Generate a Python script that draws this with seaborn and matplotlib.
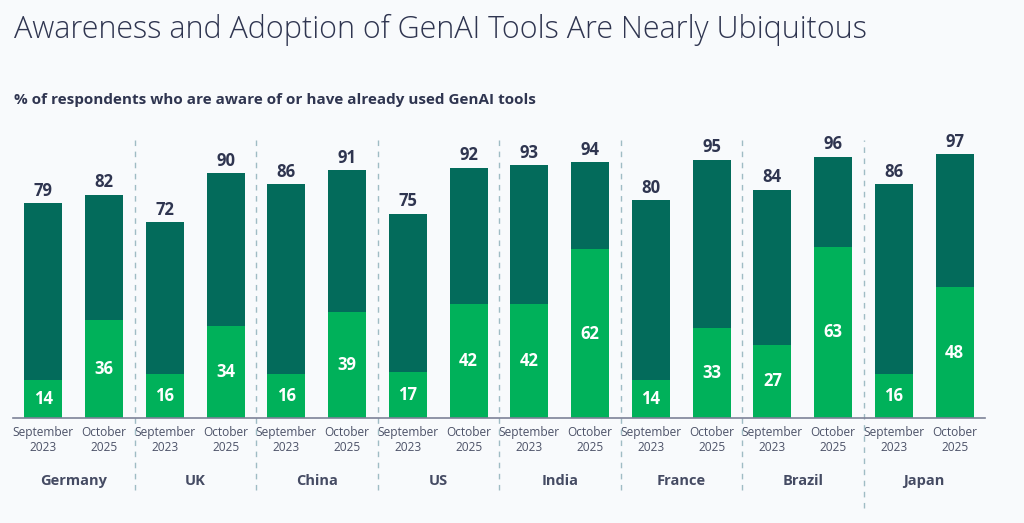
import matplotlib
matplotlib.use('Agg')
import matplotlib.pyplot as plt
import matplotlib.transforms as mtransforms
import pandas as pd
import seaborn as sns

# Data
countries = ['Germany', 'UK', 'China', 'US', 'India', 'France', 'Brazil', 'Japan']
periods = ['September\n2023', 'October\n2025']
aware_total = [79, 82, 72, 90, 86, 91, 75, 92, 93, 94, 80, 95, 84, 96, 86, 97]
already_used = [14, 36, 16, 34, 16, 39, 17, 42, 42, 62, 14, 33, 27, 63, 16, 48]

dark_green = '#036b5b'
bright_green = '#00b15a'
navy = '#2f3550'
bg = '#f8fafc'

rows = []
for i, c in enumerate(countries):
    for j, p in enumerate(periods):
        k = i * 2 + j
        rows.append({'key': f'{c} {j}', 'country': c, 'period': p,
                     'total': aware_total[k], 'used': already_used[k]})
df = pd.DataFrame(rows)

sns.set_style('white')
plt.rcParams['font.family'] = ['Open Sans', 'DejaVu Sans']

fig = plt.figure(figsize=(10.24, 5.23), dpi=100, facecolor=bg)
ax = fig.add_axes([13 / 1024, 105 / 523, 972 / 1024, 272 / 523])
ax.set_facecolor(bg)

sns.barplot(data=df, x='key', y='total', color=dark_green, width=0.625,
            saturation=1, ax=ax, edgecolor='none')
sns.barplot(data=df, x='key', y='used', color=bright_green, width=0.625,
            saturation=1, ax=ax, edgecolor='none')

ax.set_ylim(0, 100)
ax.set_xlim(-0.5, len(df) - 0.5)
for s in ['top', 'right', 'left']:
    ax.spines[s].set_visible(False)
ax.spines['bottom'].set_color('#7d8298')
ax.spines['bottom'].set_linewidth(1.2)
ax.set_yticks([])
ax.set_xlabel('')
ax.set_ylabel('')

# value labels
for k, r in df.iterrows():
    ax.text(k, r['total'] + 1.3, str(r['total']), ha='center', va='bottom',
            fontsize=12, fontweight='bold', color=navy)
    ax.text(k, r['used'] / 2, str(r['used']), ha='center', va='center',
            fontsize=12, fontweight='bold', color='white')

# tick labels
ax.set_xticks(range(len(df)))
ax.set_xticklabels(df['period'], fontsize=8.6, color='#4c5268', linespacing=1.2)
ax.tick_params(axis='x', length=0, pad=6)

# country labels and dashed dividers
trans = mtransforms.blended_transform_factory(ax.transData, ax.transAxes)
for i, c in enumerate(countries):
    ax.text(i * 2 + 0.5, -0.232, c, transform=trans, ha='center', va='center',
            fontsize=10.5, fontweight='bold', color='#454b63')
    if i > 0:
        bottom = -0.33 if i == len(countries) - 1 else -0.265
        ax.plot([i * 2 - 0.5, i * 2 - 0.5], [bottom, 1.022], transform=trans,
                color='#9fbcc4', linestyle=(0, (4, 4)), linewidth=1, clip_on=False)

fig.text(14 / 1024, 1 - 30 / 523, 'Awareness and Adoption of GenAI Tools Are Nearly Ubiquitous',
         fontsize=22, fontweight='light', color=navy, va='center', ha='left')
fig.text(14 / 1024, 1 - 100 / 523, '% of respondents who are aware of or have already used GenAI tools',
         fontsize=11, fontweight='bold', color=navy, va='center', ha='left')

fig.savefig('out.png', dpi=100, facecolor=bg)
